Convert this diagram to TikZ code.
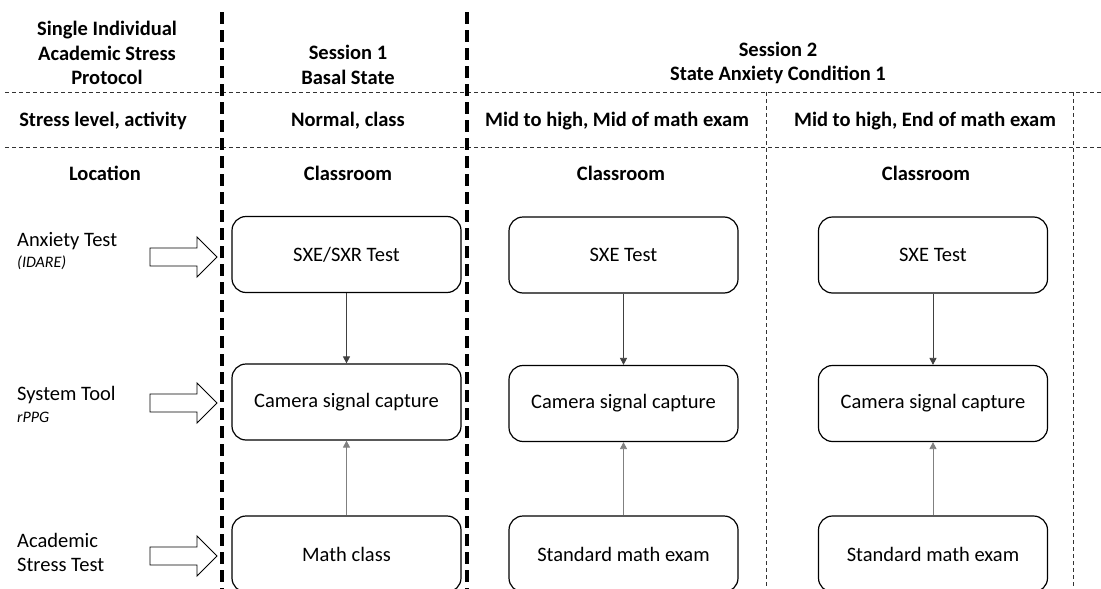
\documentclass[tikz,border=0pt]{standalone}
\usepackage{fontspec}
\setmainfont{Carlito}
\usetikzlibrary{arrows.meta}
\begin{document}
\begin{tikzpicture}[x=1pt,y=-1pt,
  hdr/.style={font=\bfseries\fontsize{20.5}{24.5}\selectfont, align=center, inner sep=0pt},
  lbl/.style={font=\fontsize{20.5}{24}\selectfont, anchor=west, inner sep=0pt},
  sub/.style={font=\itshape\fontsize{16}{18}\selectfont, anchor=west, inner sep=0pt},
  stepbox/.style={draw, line width=1.2pt, rounded corners=14pt, minimum width=229pt,
    minimum height=76pt, font=\fontsize{20.5}{24}\selectfont, inner sep=0pt},
  flow/.style={draw=black!75, line width=0.8pt, -{Triangle[length=7pt,width=7pt]}},
  sessionline/.style={line width=3.2pt, dash pattern=on 12pt off 6pt},
  gridline/.style={line width=0.7pt, dash pattern=on 4pt off 3pt, black!80},
  blockarrow/.style={draw, line width=0.9pt, fill=white}
]
\useasboundingbox (0,0) rectangle (1101,589);
\begin{scope}
\clip (0,0) rectangle (1101,589);

% table grid
\draw[gridline] (5,92) -- (1101,92);
\draw[gridline] (5,147) -- (1101,147);
\draw[gridline] (766,92) -- (766,589);
\draw[gridline] (1073,92) -- (1073,589);
\draw[sessionline] (222,12) -- (222,589);
\draw[sessionline] (467,12) -- (467,589);

% header row
\node[hdr] (h0) at (107,53) {Single Individual\\Academic Stress\\Protocol};
\node[hdr] (h1) at (348,65) {Session 1\\Basal State};
\node[hdr] (h2) at (778,63) {Session 2\\State Anxiety Condition 1};

% stress level row
\node[hdr] (s0) at (103,121) {Stress level, activity};
\node[hdr] (s1) at (348,121) {Normal, class};
\node[hdr] (s2) at (617,121) {Mid to high, Mid of math exam};
\node[hdr] (s3) at (925,121) {Mid to high, End of math exam};

% location row
\node[hdr] (l0) at (105,173) {Location};
\node[hdr] (l1) at (348,173) {Classroom};
\node[hdr] (l2) at (621,173) {Classroom};
\node[hdr] (l3) at (926,173) {Classroom};

% row labels
\node[lbl] (t1) at (17,241) {Anxiety Test};
\node[sub] (t1s) at (17,263) {(\textit{IDARE)}};
\node[lbl] (t2) at (17,395) {System Tool};
\node[sub] (t2s) at (17,417) {rPPG};
\node[lbl] (t3) at (17,540) {Academic};
\node[lbl] (t3s) at (17,565) {Stress Test};

% block arrows
\foreach \y in {257,403,556}
  \draw[blockarrow] (150,\y-9) -- (197,\y-9) -- (197,\y-20) -- (217,\y)
    -- (197,\y+20) -- (197,\y+9) -- (150,\y+9) -- cycle;

% session boxes
\node[stepbox] (a1) at (346.5,254.5) {SXE/SXR Test};
\node[stepbox] (b1) at (346.5,402) {Camera signal capture};
\node[stepbox] (c1) at (346.5,554) {Math class};
\node[stepbox] (a2) at (623.5,255) {SXE Test};
\node[stepbox] (b2) at (623.5,403.5) {Camera signal capture};
\node[stepbox] (c2) at (623.5,554) {Standard math exam};
\node[stepbox] (a3) at (933,255) {SXE Test};
\node[stepbox] (b3) at (933,403.5) {Camera signal capture};
\node[stepbox] (c3) at (933,554) {Standard math exam};

% connectors
\foreach \i in {1,2,3} {
  \draw[flow] (a\i) -- (b\i);
  \draw[flow, draw=black!50] (c\i) -- (b\i);
}
\end{scope}
\end{tikzpicture}
\end{document}
